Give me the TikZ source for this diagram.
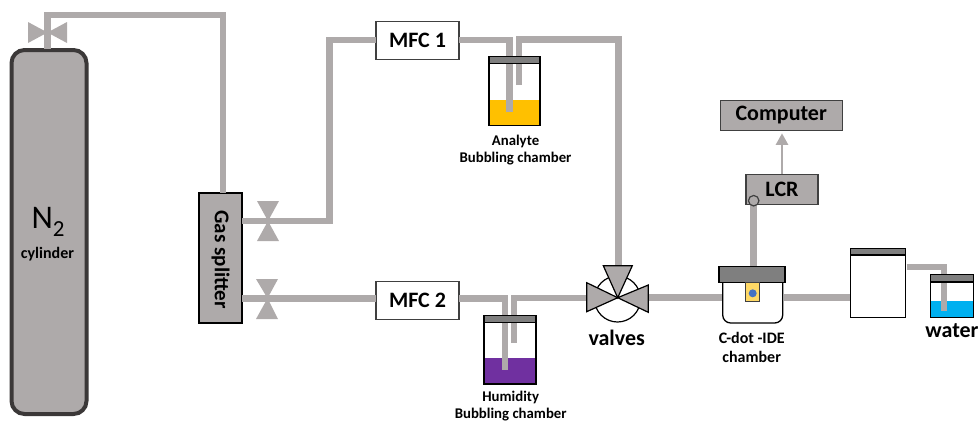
\documentclass[tikz,border=0pt]{standalone}
\usepackage{fontspec}
\setmainfont{Carlito}
\usetikzlibrary{arrows.meta}
\definecolor{pipegray}{HTML}{AEAAAA}
\definecolor{lidgray}{HTML}{7F7F7F}
\definecolor{darkline}{HTML}{404040}
\definecolor{cyl}{HTML}{3B3838}
\definecolor{analyte}{HTML}{FFC000}
\definecolor{humid}{HTML}{7030A0}
\definecolor{waterc}{HTML}{00B0F0}
\definecolor{sensor}{HTML}{FFD966}
\definecolor{dotc}{HTML}{4472C4}
\tikzset{
  x=1pt,y=-1pt,
  every node/.style={inner sep=0pt,outer sep=0pt,font=\bfseries},
  pipe/.style={draw=pipegray,line width=6.4pt,line cap=butt,line join=miter},
  gbox/.style={draw=darkline,fill=pipegray,line width=1.3pt},
  wbox/.style={draw=darkline,fill=white,line width=1.3pt},
  vessel/.style={draw=black,line width=1.3pt},
  lid/.style={draw=black,fill=lidgray,line width=1.1pt},
  tri/.style={fill=pipegray},
  tril/.style={fill=pipegray,draw=black,line width=1.2pt,line join=miter},
  smalltxt/.style={font=\fontsize{14.8}{15}\selectfont\bfseries},
  chtxt/.style={font=\fontsize{16}{16}\selectfont\bfseries},
  bigtxt/.style={font=\fontsize{22}{22}\selectfont\bfseries},
}
\newcommand{\boxat}[6]{\node[#1,minimum width=#4pt,minimum height=#5pt] (#2) at (#3) {#6};}
\begin{document}
\begin{tikzpicture}
\useasboundingbox (0,0) rectangle (979,421);
% cylinder
\draw[draw=cyl,fill=pipegray,line width=4pt,rounded corners=13pt] (11.5,50) rectangle (86.5,414);
\coordinate (cyltop) at (47.5,49);
\node[font=\fontsize{33}{33}\selectfont\mdseries,anchor=base] (ntwo) at (48,228.5) {N\raisebox{-7.7pt}{\fontsize{23}{23}\selectfont 2}};
\node[chtxt] (cyllabel) at (47.5,254) {cylinder};
% boxes
\boxat{gbox,draw=black}{split}{220.5,258}{43}{130}{}
\node[rotate=-90,font=\fontsize{21}{21}\selectfont\bfseries] (splittext) at (220.5,259.7) {Gas splitter};
\boxat{wbox}{mfcone}{417.5,40.4}{83}{37.5}{\fontsize{22}{22}\selectfont MFC 1}
\boxat{wbox}{mfctwo}{417.5,300.4}{83}{37.5}{\fontsize{22}{22}\selectfont MFC 2}
\boxat{gbox}{comp}{781.2,115.4}{122}{30.5}{\fontsize{22}{22}\selectfont Computer}
\boxat{gbox}{lcr}{782,189.5}{72}{30.5}{\fontsize{22}{22}\selectfont LCR}
% analyte chamber
\coordinate (aIn) at (509.5,111.5);
\coordinate (aOut) at (519,85);
\fill[analyte] (489,100) rectangle (540,125.7);
\draw[vessel] (489,56.7) rectangle (540,125.7);
\node[smalltxt] (alabel) at (515.5,141.5) {Analyte};
\node[smalltxt] (alabelb) at (515.5,159) {Bubbling chamber};
% humidity chamber
\coordinate (hIn) at (505,370);
\coordinate (hOut) at (514,343);
\fill[humid] (484,357.7) rectangle (536,384);
\draw[vessel] (484,315.7) rectangle (536,384);
\node[smalltxt] (hlabel) at (510.7,397) {Humidity};
\node[smalltxt] (hlabelb) at (510.7,415) {Bubbling chamber};
% sensor chamber
\draw[vessel,fill=white,rounded corners=8pt] (722.7,275) -- (722.7,323) -- (782.7,323) -- (782.7,275);
\draw[lid,fill=lidgray] (719,266.7) rectangle (785,282.3);
\node[draw=darkline,fill=sensor,line width=1pt,minimum width=13.5pt,minimum height=19pt] (sens) at (752.5,291.7) {};
\fill[dotc] (752.7,293.3) circle (4);
\node[chtxt] (clabel) at (751.7,338) {C-dot -IDE};
\node[chtxt] (clabelb) at (751.7,356.7) {chamber};
\coordinate (cIn) at (722,297.5);
\coordinate (cOut) at (783.5,297);
\coordinate (cTop) at (753.7,266);
% trap
\draw[vessel,fill=white] (850.3,248.7) rectangle (905.7,317.3);
\coordinate (tIn) at (850,297);
\coordinate (tOut) at (906.5,266.7);
% water
\fill[waterc] (930.7,301) rectangle (973.3,317.3);
\draw[vessel] (930.7,274.3) rectangle (973.3,317.3);
\coordinate (wIn) at (944,311);
\node[bigtxt] (wlabel) at (952,331) {water};
% pipes
\coordinate (v1) at (268,221);
\coordinate (v2) at (267.5,298.3);
\coordinate (v3) at (617.7,297.7);
\draw[pipe] (cyltop) -- (47.5,15) -- (223,15) -- (223,193);
\draw[pipe] (242,221) -- (329.5,221) -- (329.5,40) -- (mfcone.west |- 0,40);
\draw[pipe] (mfcone.east |- 0,40) -- (509.5,40) -- (aIn);
\draw[pipe] (aOut) -- (519,39.5) -- (618.5,39.5) -- (618.5,268);
\draw[pipe] (242,298.3) -- (mfctwo.west |- 0,298.3);
\draw[pipe] (mfctwo.east |- 0,298.5) -- (505,298.5) -- (hIn);
\draw[pipe] (hOut) -- (514,298) -- (590,298);
\draw[pipe] (645,297.5) -- (cIn);
\draw[pipe,line width=7pt] (cOut) -- (tIn);
\draw[pipe,line width=7pt] (cTop) -- (753.7,205);
\draw[pipe] (tOut) -- (944,266.7) -- (wIn);
% lids over the pipes
\draw[lid] (489,56.7) rectangle (540,63.5);
\draw[lid] (484,315.7) rectangle (536,322.5);
\draw[lid] (850.3,248.7) rectangle (905.7,255);
\draw[lid] (930.7,274.3) rectangle (973.3,282);
% LCR terminal and arrow
\node[circle,draw=darkline,fill=pipegray,line width=1.2pt,minimum size=10.5pt] (term) at (753.7,200.7) {};
\draw[draw=pipegray,line width=2.4pt,-{Triangle[length=11.5pt,width=12pt]}] (lcr.north) -- (lcr.north |- 0,133.3);
% manual valves
\fill[tri] (28,22) -- (28,43) -- (47.5,32.5) -- cycle;
\fill[tri] (67,22) -- (67,43) -- (47.5,32.5) -- cycle;
\fill[tri] (257,201) -- (279,201) -- (v1) -- cycle;
\fill[tri] (257,241) -- (279,241) -- (v1) -- cycle;
\fill[tri] (256,279) -- (278,279) -- (v2) -- cycle;
\fill[tri] (256,319) -- (278,319) -- (v2) -- cycle;
% three-way valve
\node[circle,draw=black,fill=white,line width=1.2pt,minimum size=46pt] (vcirc) at (617.5,299) {};
\draw[tril] (603.3,265.7) -- (632.3,265.7) -- (v3) -- cycle;
\draw[tril] (586.7,282.7) -- (586.7,311.7) -- (v3) -- cycle;
\draw[tril] (648.3,285) -- (648.3,312.3) -- (v3) -- cycle;
\node[bigtxt] (vlabel) at (616.7,338) {valves};
\end{tikzpicture}
\end{document}
